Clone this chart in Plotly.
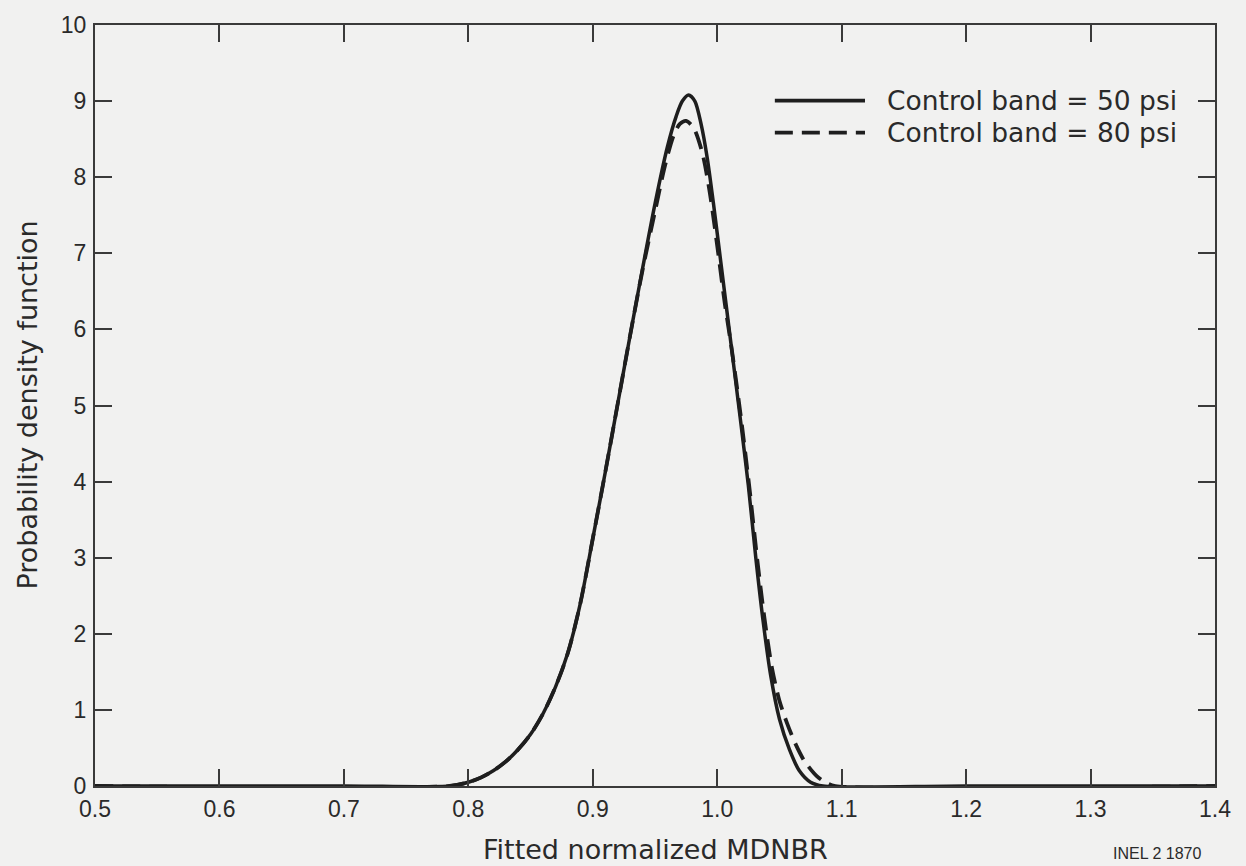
import plotly.graph_objects as go

# Solid curve: Control band = 50 psi
x50 = [0.50, 0.70, 0.785, 0.800, 0.810, 0.820, 0.830, 0.840, 0.850, 0.860, 0.870,
       0.880, 0.890, 0.900, 0.910, 0.920, 0.930, 0.940, 0.950, 0.960, 0.967, 0.972,
       0.977, 0.982, 0.987, 0.992, 0.997, 1.002, 1.010, 1.018, 1.025, 1.031, 1.037,
       1.043, 1.050, 1.058, 1.066, 1.075, 1.085, 1.20, 1.40]
y50 = [0.0, 0.0, 0.0, 0.05, 0.11, 0.20, 0.32, 0.48, 0.68, 0.95, 1.30,
       1.75, 2.40, 3.25, 4.12, 5.02, 5.92, 6.80, 7.65, 8.40, 8.80, 9.00,
       9.08, 9.00, 8.70, 8.25, 7.65, 7.00, 5.95, 4.90, 3.95, 3.00, 2.15,
       1.45, 0.88, 0.48, 0.20, 0.05, 0.0, 0.0, 0.0]

# Dashed curve: Control band = 80 psi
x80 = [0.50, 0.785, 0.800, 0.810, 0.820, 0.830, 0.840, 0.850, 0.860, 0.870,
       0.880, 0.890, 0.900, 0.910, 0.920, 0.930, 0.940, 0.950, 0.958, 0.965,
       0.970, 0.975, 0.981, 0.988, 0.994, 1.000, 1.006, 1.012, 1.019, 1.026,
       1.032, 1.038, 1.044, 1.050, 1.056, 1.063, 1.070, 1.080, 1.088, 1.095, 1.40]
y80 = [0.0, 0.0, 0.05, 0.11, 0.20, 0.32, 0.48, 0.68, 0.95, 1.30,
       1.75, 2.40, 3.25, 4.12, 5.02, 5.92, 6.78, 7.55, 8.15, 8.55,
       8.70, 8.74, 8.65, 8.32, 7.80, 7.10, 6.35, 5.70, 4.85, 3.90,
       3.00, 2.20, 1.55, 1.12, 0.83, 0.55, 0.33, 0.13, 0.04, 0.0, 0.0]

x_ticks = [0.5, 0.6, 0.7, 0.8, 0.9, 1.0, 1.1, 1.2, 1.3, 1.4]
x_tick_labels = ["0.5", "0.6", "0.7", "0.8", "0.9", "1.0", "1.1", "1.2", "1.3", "1.4"]
y_ticks = list(range(0, 11))
series_names = ["Control band = 50 psi", "Control band = 80 psi"]

TICKFONT = "Liberation Sans, Arial, Helvetica, sans-serif"
TEXTFONT = "DejaVu Sans, Verdana, sans-serif"
BG = "#f1f1f0"
INK = "#1e1e1e"
TXT = "#2a2a2a"
DASH = "18px,9px"

fig = go.Figure()
fig.add_trace(go.Scatter(x=x50, y=y50, mode="lines", name=series_names[0],
                         line=dict(color=INK, width=3.5, shape="spline", smoothing=0.8)))
fig.add_trace(go.Scatter(x=x80, y=y80, mode="lines", name=series_names[1],
                         line=dict(color=INK, width=3.8, dash=DASH, shape="spline", smoothing=0.8)))

axis_common = dict(showgrid=False, zeroline=False, showline=True, linecolor="#3a3a3a",
                   linewidth=2, ticks="inside", ticklen=17, tickwidth=1.8,
                   tickcolor="#3a3a3a", mirror="ticks",
                   tickfont=dict(family=TICKFONT, size=23, color=TXT))

fig.update_layout(
    width=1246, height=866,
    margin=dict(l=95, r=31, t=22, b=80),
    paper_bgcolor=BG, plot_bgcolor=BG,
    font=dict(family=TICKFONT, color=TXT),
    xaxis=dict(range=[0.5, 1.4], tickvals=x_ticks, ticktext=x_tick_labels,
               ticklabelstandoff=1, **axis_common),
    yaxis=dict(range=[0, 10], tickvals=y_ticks, ticklabelstandoff=2, **axis_common),
    showlegend=False,
)

# Axis titles
fig.add_annotation(text="Fitted normalized MDNBR", xref="paper", yref="paper",
                   x=0.5, y=0, yshift=-63, xanchor="center", yanchor="middle",
                   showarrow=False, font=dict(size=27, family=TEXTFONT, color=TXT))
fig.add_annotation(text="Probability density function", xref="paper", yref="paper",
                   x=0, xshift=-68, y=0.5, xanchor="center", yanchor="middle",
                   textangle=-90, showarrow=False,
                   font=dict(size=27, family=TEXTFONT, color=TXT))

# Legend drawn as line samples + labels
leg_y = [0.9005, 0.8586]
leg_dash = ["solid", DASH]
for name, yy, dsh in zip(series_names, leg_y, leg_dash):
    fig.add_shape(type="line", xref="paper", yref="paper", x0=0.607, x1=0.6875,
                  y0=yy, y1=yy, line=dict(color=INK, width=3.8, dash=dsh))
    fig.add_annotation(text=name, xref="paper", yref="paper", x=0.7054, y=yy,
                       xanchor="left", yanchor="middle", showarrow=False,
                       font=dict(size=26.5, family=TEXTFONT, color=TXT))

fig.add_annotation(text="INEL 2 1870", xref="paper", yref="paper", x=0.948, y=0,
                   yshift=-67, xanchor="center", yanchor="middle", showarrow=False,
                   font=dict(size=16, family=TICKFONT, color=TXT))

fig.write_html("out.html", config={"displayModeBar": False},
               post_script="document.body.style.margin='0';document.body.style.background='#f1f1f0';")
